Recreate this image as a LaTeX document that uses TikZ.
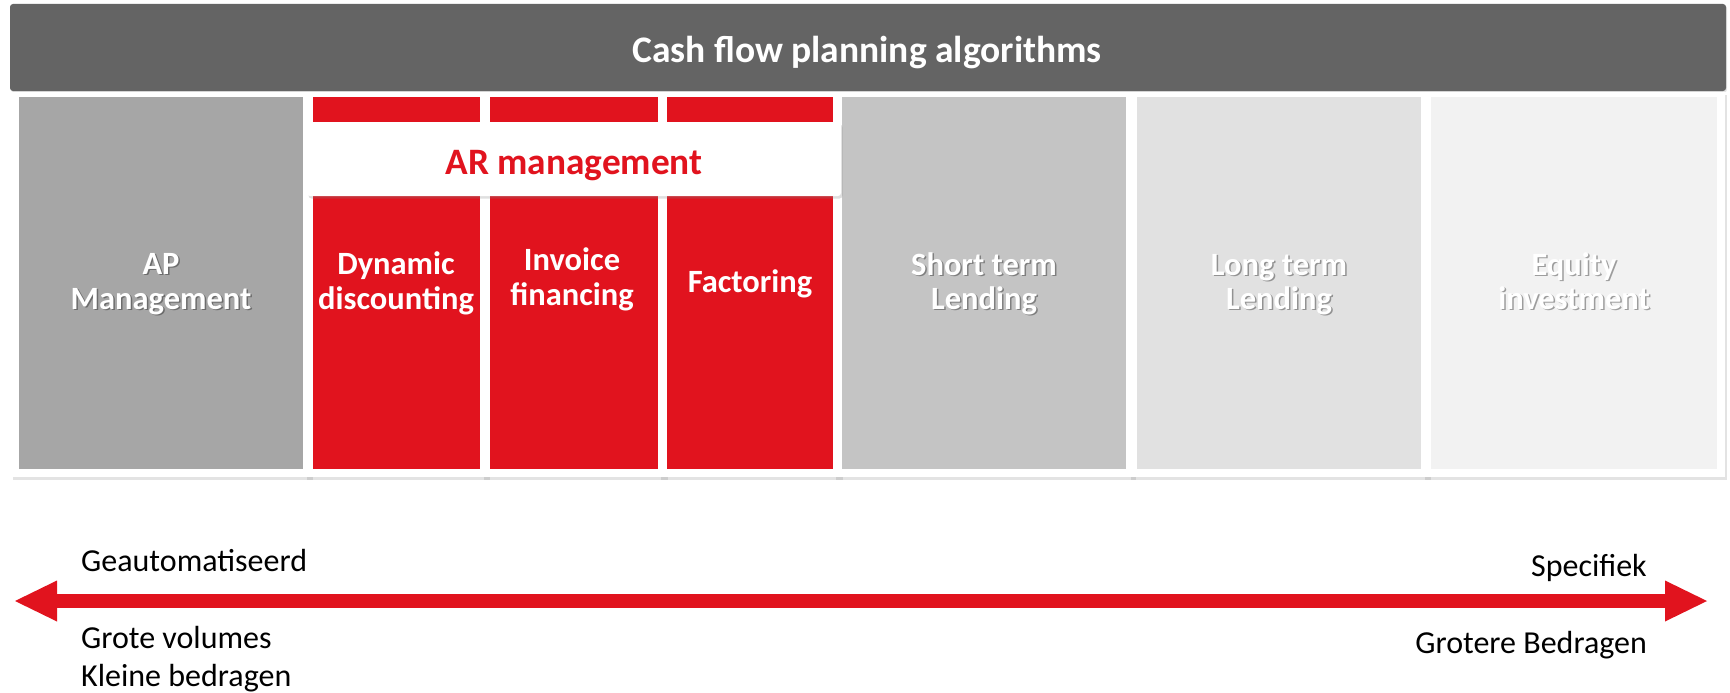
\documentclass[tikz,border=0pt]{standalone}
\usepackage{fontspec}
\setmainfont{Carlito}
\usetikzlibrary{arrows.meta,shadows}
\definecolor{barc}{HTML}{646464}
\definecolor{redc}{RGB}{225,19,30}
\definecolor{gA}{HTML}{A6A6A6}
\definecolor{gB}{HTML}{C4C4C4}
\definecolor{gC}{HTML}{E1E1E1}
\definecolor{gD}{HTML}{F2F2F2}
\tikzset{
  card/.style={fill=white, draw=none, inner sep=0pt, minimum height=385pt,
    drop shadow={opacity=0.22, shadow xshift=1.5pt, shadow yshift=-2.5pt}},
  colbox/.style={draw=none, inner sep=0pt, minimum height=372pt},
  ctext/.style={font=\fontsize{32.5}{36}\selectfont\bfseries, text=white, inner sep=0pt},
  tshadow/.style={font=\fontsize{32.5}{36}\selectfont\bfseries, text=black, opacity=0.35, inner sep=0pt},
  bottomtext/.style={font=\fontsize{32}{36}\selectfont, text=black, inner sep=0pt},
  bigarrow/.style={draw=redc, line width=14pt,
    {Triangle[length=42pt,width=41pt,line width=0pt]}-{Triangle[length=42pt,width=41pt,line width=0pt]}}
}
\newcommand\shline[4]{%
  \node[tshadow, anchor=base] at (#2+1.5,#3+1.8) {#4};
  \node[ctext, anchor=base] (#1) at (#2,#3) {#4};}
\begin{document}
\begin{tikzpicture}[x=1pt,y=-1pt]
\useasboundingbox (0,0) rectangle (1730,693);
\fill[white] (0,0) rectangle (1730,693);

% top bar
\node[fill=barc, draw=none, rounded corners=3pt, minimum width=1716pt, minimum height=87pt, inner sep=0pt,
  drop shadow={opacity=0.2, shadow xshift=1pt, shadow yshift=-1.5pt}] (bar) at (868,47.5) {};
\node[font=\fontsize{37.5}{41}\selectfont\bfseries, text=white, anchor=base, inner sep=0pt] (title) at (867,63) {Cash flow planning algorithms};

% cards
\node[card, minimum width=300pt] (k1) at (161,284.5) {};
\node[card, minimum width=183pt] (k2) at (396.5,284.5) {};
\node[card, minimum width=184pt] (k3) at (574,284.5) {};
\node[card, minimum width=182pt] (k4) at (750,284.5) {};
\node[card, minimum width=300pt] (k5) at (984,284.5) {};
\node[card, minimum width=300pt] (k6) at (1279,284.5) {};
\node[card, minimum width=302pt] (k7) at (1574,284.5) {};

% inner column boxes
\node[colbox, fill=gA, minimum width=284pt] (c1) at (161,283) {};
\node[colbox, fill=redc, minimum width=167pt] (c2) at (396.5,283) {};
\node[colbox, fill=redc, minimum width=168pt] (c3) at (574,283) {};
\node[colbox, fill=redc, minimum width=166pt] (c4) at (750,283) {};
\node[colbox, fill=gB, minimum width=284pt] (c5) at (984,283) {};
\node[colbox, fill=gC, minimum width=284pt] (c6) at (1279,283) {};
\node[colbox, fill=gD, minimum width=286pt] (c7) at (1574,283) {};

% AR management box
\node[fill=white, draw=none, rounded corners=3pt, minimum width=534pt, minimum height=74pt, inner sep=0pt,
  drop shadow={opacity=0.25, shadow xshift=1.5pt, shadow yshift=-2.5pt}] (arbox) at (574,159) {};
\node[font=\fontsize{37.3}{41}\selectfont\bfseries, text=redc, anchor=base, inner sep=0pt] (artext) at (574,174) {AR management};

% column texts
\shline{t1a}{161}{274}{AP}
\shline{t1b}{161}{309}{Management}
\node[ctext, anchor=base] (t2a) at (396,274) {Dynamic};
\node[ctext, anchor=base] (t2b) at (396,309) {discounting};
\node[ctext, anchor=base] (t3a) at (572,270) {Invoice};
\node[ctext, anchor=base] (t3b) at (572,305) {financing};
\node[ctext, anchor=base] (t4a) at (750,292) {Factoring};
\shline{t5a}{984}{275}{Short term}
\shline{t5b}{984}{309}{Lending}
\shline{t6a}{1279}{275}{Long term}
\shline{t6b}{1279}{309}{Lending}
\shline{t7a}{1574}{275}{Equity}
\shline{t7b}{1574}{309}{investment}

% double arrow
\coordinate (aL) at (15,601);
\coordinate (aR) at (1707,601);
\draw[bigarrow] (aL) -- (aR);

% bottom texts
\node[bottomtext, anchor=base west] (geaut) at (81,571) {Geautomatiseerd};
\node[bottomtext, anchor=base west] (grote) at (81,648) {Grote volumes};
\node[bottomtext, anchor=base west] (kleine) at (81,686) {Kleine bedragen};
\node[bottomtext, anchor=base east] (spec) at (1647,576) {Specifiek};
\node[bottomtext, anchor=base east] (groter) at (1647,653) {Grotere Bedragen};
\end{tikzpicture}
\end{document}
